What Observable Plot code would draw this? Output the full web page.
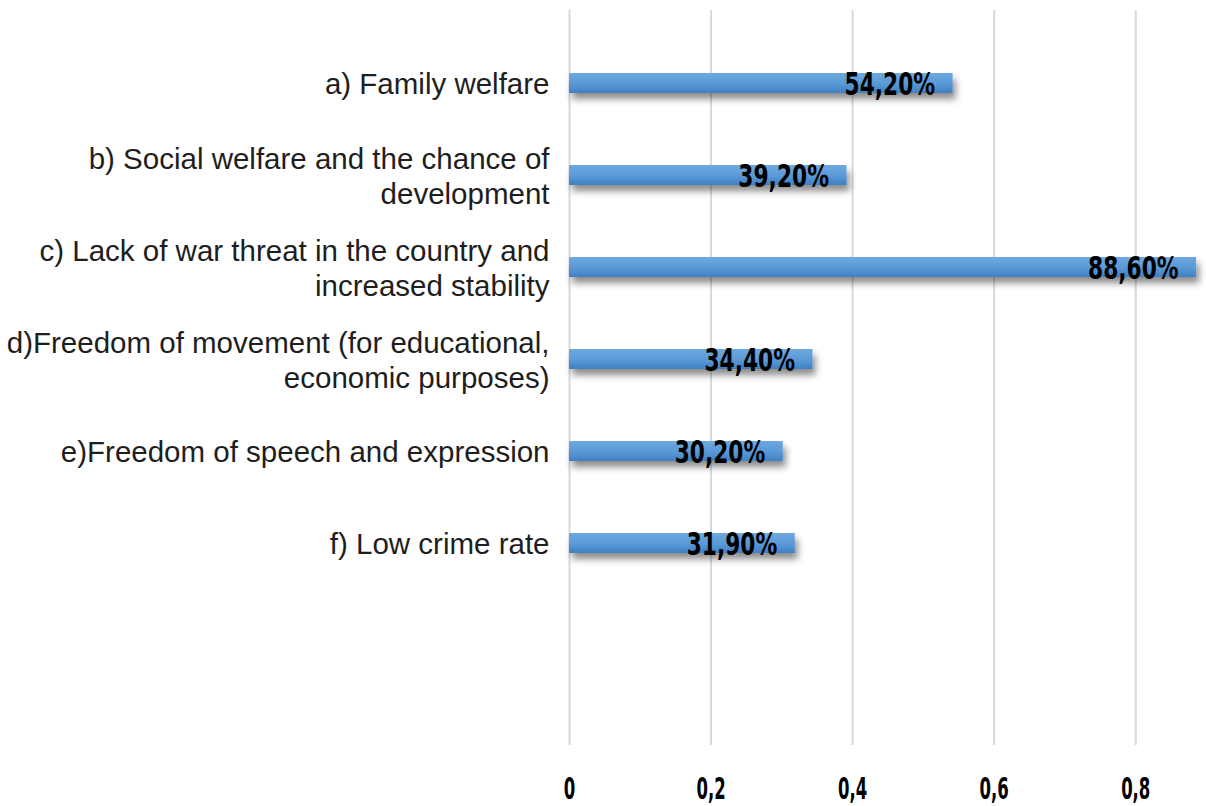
<!DOCTYPE html>
<html>
<head>
<meta charset="utf-8">
<script src="https://cdn.jsdelivr.net/npm/d3@7"></script>
<script src="https://cdn.jsdelivr.net/npm/@observablehq/plot@0.6"></script>
<style>
  html, body { margin: 0; padding: 0; background: #ffffff; }
  #chart { width: 1206px; height: 806px; }
</style>
</head>
<body>
<div id="chart"></div>
<script>
const categories = [
  "a) Family welfare",
  "b) Social welfare and the chance of\ndevelopment",
  "c) Lack of war threat in the country and\nincreased stability",
  "d)Freedom of movement (for educational,\neconomic purposes)",
  "e)Freedom of speech and expression",
  "f) Low crime rate"
];
const values = [0.542, 0.392, 0.886, 0.344, 0.302, 0.319];
const valueLabels = ["54,20%", "39,20%", "88,60%", "34,40%", "30,20%", "31,90%"];
const xTicks = [0, 0.2, 0.4, 0.6, 0.8];

const data = categories.map((c, i) => ({category: c, value: values[i], label: valueLabels[i]}));

const boldFont = "'DejaVu Sans', sans-serif";

const chart = Plot.plot({
  width: 1206,
  height: 806,
  marginLeft: 569,
  marginRight: 0,
  marginTop: 10,
  marginBottom: 61,
  style: {background: "#ffffff", fontFamily: "'Liberation Sans', Arial, sans-serif"},
  x: {domain: [0, 0.9], axis: null},
  y: {domain: categories, paddingInner: 0.78, paddingOuter: 0.39, insetTop: 27, insetBottom: 156, axis: null},
  marks: [
    Plot.ruleX(xTicks, {stroke: "#d9d9d9", strokeWidth: 2}),
    Plot.barX(data, {x: "value", y: "category", fill: "url(#barGrad)"}),
    Plot.text(data, {x: "value", y: "category", text: "label", textAnchor: "end", dx: -18, dy: 1,
      fontSize: 32, fontWeight: "bold", fill: "#000000", fontFamily: boldFont, className: "vlabel"}),
    Plot.text(data, {x: 0, y: "category", text: "category", textAnchor: "end", dx: -20,
      fontSize: 29.5, fill: "#1e1e1e", lineHeight: 1.16}),
    Plot.axisX({ticks: xTicks, tickFormat: d => String(d).replace(".", ","), tickSize: 0, tickPadding: 32,
      fontSize: 30, fontWeight: "bold", fontFamily: boldFont, fill: "#000000", label: null, className: "xticks"})
  ]
});

// gradient + shadow defs
const svg = d3.select(chart);
const defs = svg.insert("defs", ":first-child");
const g = defs.append("linearGradient").attr("id", "barGrad").attr("x1", 0).attr("y1", 0).attr("x2", 0).attr("y2", 1);
g.append("stop").attr("offset", "0%").attr("stop-color", "#6ea9e0");
g.append("stop").attr("offset", "55%").attr("stop-color", "#5a99d6");
g.append("stop").attr("offset", "100%").attr("stop-color", "#3f7fc2");
const f = defs.append("filter").attr("id", "barShadow").attr("x", "-5%").attr("y", "-50%").attr("width", "115%").attr("height", "250%");
f.append("feDropShadow").attr("dx", 3).attr("dy", 6).attr("stdDeviation", 3.5).attr("flood-color", "#000").attr("flood-opacity", 0.45);
svg.selectAll("g[aria-label='bar'] rect").attr("filter", "url(#barShadow)");

document.getElementById("chart").appendChild(chart);

// condense the bold numeric labels (reference uses a narrow bold face)
function condense(selector, ratio) {
  svg.selectAll(selector).each(function() {
    const len = this.getComputedTextLength();
    if (len > 0) {
      this.setAttribute("textLength", (len * ratio).toFixed(1));
      this.setAttribute("lengthAdjust", "spacingAndGlyphs");
    }
  });
}
condense(".vlabel text", 0.68);
condense(".xticks text", 0.55);
</script>
</body>
</html>
